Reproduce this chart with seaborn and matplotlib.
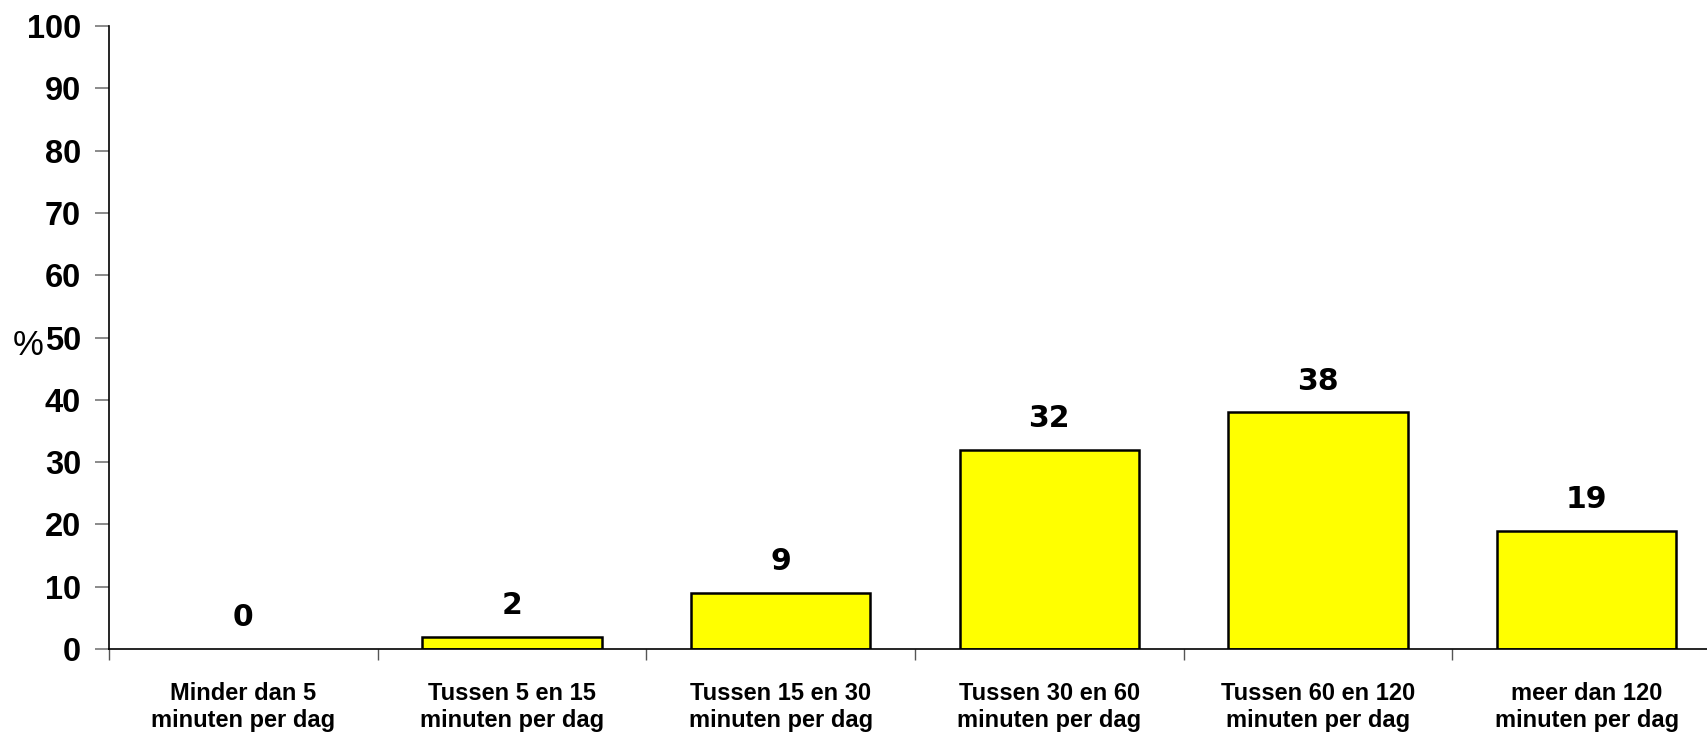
import numpy as np
import pandas as pd
import seaborn as sns
import matplotlib.pyplot as plt
from matplotlib.ticker import FixedLocator

categories = ["Minder dan 5\nminuten per dag", "Tussen 5 en 15\nminuten per dag",
              "Tussen 15 en 30\nminuten per dag", "Tussen 30 en 60\nminuten per dag",
              "Tussen 60 en 120\nminuten per dag", "meer dan 120\nminuten per dag"]
values = [0, 2, 9, 32, 38, 19]
yticks = list(range(0, 101, 10))

df = pd.DataFrame({"cat": categories, "pct": values})

sns.set_style("ticks", {"text.color": "black", "axes.labelcolor": "black",
                        "xtick.color": "black", "ytick.color": "black",
                        "axes.edgecolor": "black"})
fig = plt.figure(figsize=(17.08, 7.33), dpi=100)
ax = fig.add_axes([109 / 1708, 84 / 733, (1721 - 109) / 1708, (649 - 26) / 733])

sns.barplot(data=df, x="cat", y="pct", color="#FFFF00", saturation=1,
            edgecolor="black", linewidth=1.8, width=0.667, ax=ax)
# empty bar has no visible outline in the original
for bar, v in zip(ax.patches, values):
    if v == 0:
        bar.set_linewidth(0)

for i, v in enumerate(values):
    ax.annotate(str(v), (i, v), xytext=(0, 12), textcoords="offset points",
                ha="center", va="bottom", fontsize=21.5, fontweight="bold",
                family="DejaVu Sans", color="black")

ax.set_xlim(-0.5, len(categories) - 0.5)
ax.set_ylim(0, 100)
ax.set_yticks(yticks)
ax.set_yticklabels([str(t) for t in yticks], fontsize=23.5, fontweight="bold",
                   family="Liberation Sans")
ax.set_xticks(range(len(categories)))
ax.set_xticklabels(categories, fontsize=17, fontweight="bold", family="Liberation Sans")
ax.xaxis.set_minor_locator(FixedLocator(np.arange(-0.5, len(categories), 1.0)))
ax.tick_params(axis="x", which="major", length=0, pad=24, labelcolor="black")
ax.tick_params(axis="x", which="minor", length=8, width=1, color="#555555", direction="out")
ax.tick_params(axis="y", length=10, width=1.2, color="#777777", direction="out", pad=10,
               labelcolor="black")

ax.set_xlabel("")
ax.set_ylabel("%", rotation=0, fontsize=25, family="Liberation Sans", color="black")
ax.yaxis.set_label_coords(-0.050, 0.46)

sns.despine(ax=ax)
for s in ["left", "bottom"]:
    ax.spines[s].set_color("black")
    ax.spines[s].set_linewidth(1.2)

fig.savefig("out.png", dpi=100)
